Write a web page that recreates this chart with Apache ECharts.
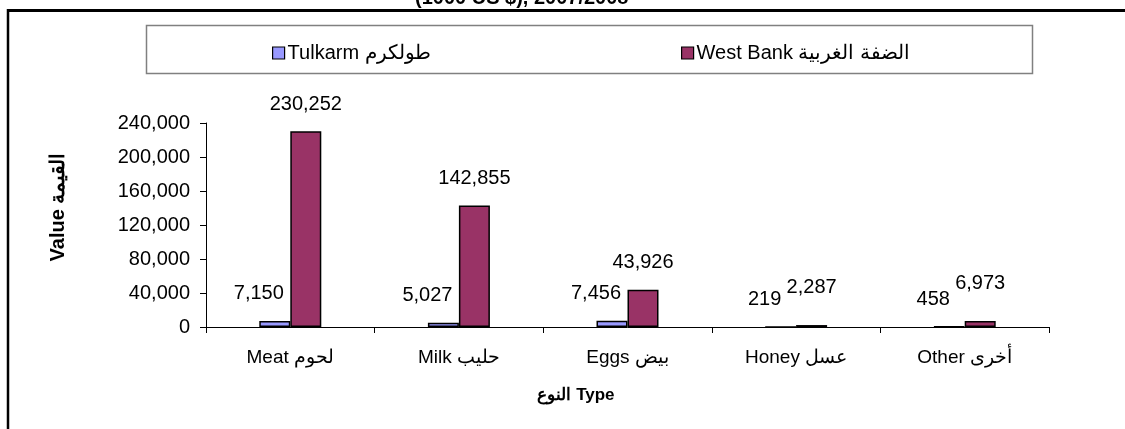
<!DOCTYPE html>
<html>
<head>
<meta charset="utf-8">
<script src="https://cdn.jsdelivr.net/npm/echarts@6/dist/echarts.min.js"></script>
<style>
  html, body { margin: 0; padding: 0; background: #fff; }
  #chart { width: 1125px; height: 429px; }
</style>
</head>
<body>
<div id="chart"></div>
<script>
  // categories and values (1000 US $)
  const categories = ['Meat لحوم', 'Milk حليب', 'Eggs بيض', 'Honey عسل', 'Other أخرى'];
  const tulkarm = [7150, 5027, 7456, 219, 458];
  const westBank = [230252, 142855, 43926, 2287, 6973];
  const seriesNames = ['Tulkarm طولكرم', 'West Bank الضفة الغربية'];
  const yTicks = { min: 0, max: 240000, interval: 40000 };

  const FONT = 'Liberation Sans, Arial, sans-serif';
  const fmt = v => Number(v).toLocaleString('en-US');

  // West Bank labels of the two short bars sit a bit higher in the original
  const westBankData = westBank.map((v, i) =>
    i >= 3 ? { value: v, label: { offset: [0, -11] } } : v);

  const chart = echarts.init(document.getElementById('chart'));
  chart.setOption({
    animation: false,
    backgroundColor: '#fff',
    title: {
      text: '(1000 US $), 2007/2008',
      left: 415,
      top: -12,
      padding: 0,
      textStyle: { fontFamily: FONT, fontSize: 20, fontWeight: 'bold', color: '#000' }
    },
    legend: [
      {
        data: [seriesNames[0]],
        left: 272, top: 43, padding: 0,
        itemWidth: 12, itemHeight: 12, icon: 'rect',
        itemStyle: { borderColor: '#000', borderWidth: 1.2 },
        textStyle: { fontFamily: FONT, fontSize: 20, color: '#000', padding: [0, 0, 0, -2] }
      },
      {
        data: [seriesNames[1]],
        left: 681, top: 43, padding: 0,
        itemWidth: 12, itemHeight: 12, icon: 'rect',
        itemStyle: { borderColor: '#000', borderWidth: 1.2 },
        textStyle: { fontFamily: FONT, fontSize: 20, color: '#000', padding: [0, 0, 0, -2] }
      }
    ],
    grid: { left: 206, right: 76, top: 123, bottom: 102 },
    xAxis: {
      type: 'category',
      data: categories,
      axisLine: { lineStyle: { color: '#000', width: 1 } },
      axisTick: { show: true, length: 6, lineStyle: { color: '#000' } },
      axisLabel: { fontFamily: FONT, fontSize: 19, color: '#000', margin: 21 },
      splitLine: { show: false }
    },
    yAxis: {
      type: 'value',
      min: yTicks.min, max: yTicks.max, interval: yTicks.interval,
      axisLine: { show: true, lineStyle: { color: '#000', width: 1 } },
      axisTick: { show: true, length: 6, lineStyle: { color: '#000' } },
      axisLabel: { fontFamily: FONT, fontSize: 20, color: '#000', margin: 16, formatter: fmt },
      splitLine: { show: false }
    },
    series: [
      {
        name: seriesNames[0],
        type: 'bar',
        data: tulkarm,
        barWidth: 31,
        barGap: '0%',
        itemStyle: { color: '#9999FF', borderColor: '#000', borderWidth: 1.5 },
        label: {
          show: true, position: 'top', distance: 17, offset: [-16, 0],
          fontFamily: FONT, fontSize: 20, color: '#000',
          formatter: p => fmt(p.value)
        }
      },
      {
        name: seriesNames[1],
        type: 'bar',
        data: westBankData,
        barWidth: 31,
        barGap: '0%',
        itemStyle: { color: '#993366', borderColor: '#000', borderWidth: 1.5 },
        label: {
          show: true, position: 'top', distance: 17,
          fontFamily: FONT, fontSize: 20, color: '#000',
          formatter: p => fmt(p.value)
        }
      }
    ],
    graphic: [
      // legend frame
      { type: 'rect', shape: { x: 146.5, y: 25.5, width: 886, height: 48 },
        style: { fill: 'none', stroke: '#808080', lineWidth: 1.5 }, z: 1 },
      // outer chart frame (left and top edges)
      { type: 'line', shape: { x1: 8, y1: 10.5, x2: 1125, y2: 10.5 },
        style: { stroke: '#000', lineWidth: 3 }, z: 100 },
      { type: 'line', shape: { x1: 8, y1: 9, x2: 8, y2: 429 },
        style: { stroke: '#000', lineWidth: 2.5 }, z: 100 },
      // axis titles
      { type: 'text', x: 58, y: 207, rotation: Math.PI / 2,
        style: { text: 'Value القيمة', font: 'bold 20px ' + FONT, fill: '#000',
                 align: 'center', verticalAlign: 'middle' } },
      { type: 'text', x: 576, y: 395,
        style: { text: 'النوع Type', font: 'bold 17px ' + FONT, fill: '#000',
                 align: 'center', verticalAlign: 'middle' } }
    ]
  });
</script>
</body>
</html>
